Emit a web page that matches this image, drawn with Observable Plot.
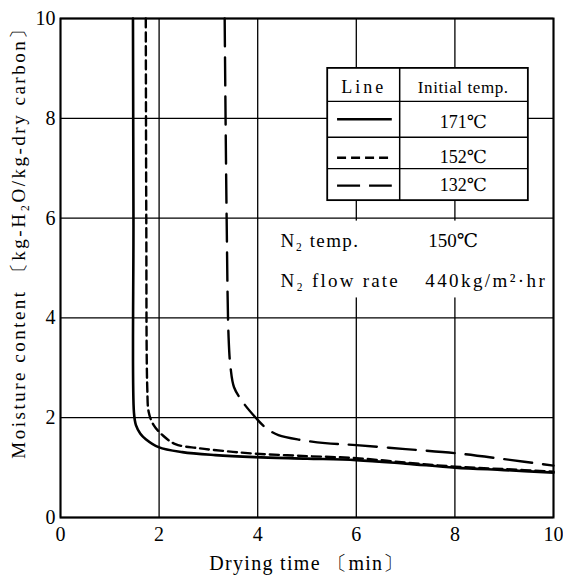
<!DOCTYPE html>
<html><head><meta charset="utf-8">
<script src="https://cdn.jsdelivr.net/npm/d3@7"></script>
<script src="https://cdn.jsdelivr.net/npm/@observablehq/plot@0.6"></script>
<style>
html,body{margin:0;padding:0;background:#fff;}
#chart{width:563px;height:580px;}
</style></head><body><div id="chart"></div>
<script>
// ---- data ----
const xTicks = [0, 2, 4, 6, 8, 10];
const yTicks = [0, 2, 4, 6, 8, 10];
const seriesNames = ["171℃", "152℃", "132℃"];

const time171  = [1.47, 1.48, 1.49, 1.53, 1.62, 1.73, 1.99, 2.47, 3.14, 3.94, 5, 6, 7, 8, 9, 10];
const moist171 = [10, 6, 2.1, 1.85, 1.68, 1.57, 1.41, 1.31, 1.25, 1.21, 1.18, 1.15, 1.08, 1.0, 0.95, 0.9];

const time152  = [1.73, 1.74, 1.76, 1.79, 1.89, 2.07, 2.33, 2.79, 3.34, 3.94, 5, 6, 7, 8, 9, 10];
const moist152 = [10, 6, 2.6, 2.11, 1.85, 1.65, 1.47, 1.39, 1.33, 1.28, 1.23, 1.19, 1.1, 1.02, 0.97, 0.92];

const time132  = [3.33, 3.37, 3.41, 3.45, 3.52, 3.7, 3.96, 4.16, 4.42, 4.9, 5.37, 6, 7, 8, 9, 10];
const moist132 = [10, 6, 3.6, 3.0, 2.61, 2.31, 2.0, 1.8, 1.65, 1.55, 1.49, 1.45, 1.37, 1.29, 1.17, 1.04];

const legendHeader = ["Line", "Initial temp."];
const noteLabels = ["N₂ temp.", "150℃", "N₂ flow rate", "440kg/m²·hr"];
const xLabel = "Drying time 〔min〕";
const yLabel = "Moisture content 〔kg-H₂O/kg-dry carbon〕";

// ---- build ----
const rows = (t, m, s) => t.map((x, i) => ({time: x, moisture: m[i], series: s}));
const d171 = rows(time171, moist171, seriesNames[0]);
const d152 = rows(time152, moist152, seriesNames[1]);
const d132 = rows(time132, moist132, seriesNames[2]);

const font = "'Liberation Serif', 'DejaVu Serif', serif";
const legendRowY = [7.92, 7.21, 6.65];

const chart = Plot.plot({
  width: 563,
  height: 580,
  marginLeft: 60,
  marginRight: 10,
  marginTop: 18,
  marginBottom: 63,
  style: {fontFamily: font, fontSize: "20px", background: "white", color: "black"},
  x: {domain: [0, 10]},
  y: {domain: [0, 10]},
  marks: [
    Plot.gridX(xTicks, {stroke: "black", strokeOpacity: 1, strokeWidth: 1.3}),
    Plot.gridY(yTicks, {stroke: "black", strokeOpacity: 1, strokeWidth: 1.3}),
    Plot.axisX(xTicks, {tickSize: 0, tickPadding: 9, fontSize: 20, label: null, tickFormat: d => String(d)}),
    Plot.axisY(yTicks, {tickSize: 0, tickPadding: 5, fontSize: 20, label: null, tickFormat: d => String(d)}),
    // curves
    Plot.line(d171, {x: "time", y: "moisture", curve: "catmull-rom", stroke: "black", strokeWidth: 2.6}),
    Plot.line(d152, {x: "time", y: "moisture", curve: "catmull-rom", stroke: "black", strokeWidth: 2.4, strokeDasharray: "9,5"}),
    Plot.line(d132, {x: "time", y: "moisture", curve: "catmull-rom", stroke: "black", strokeWidth: 2.4, strokeDasharray: "28,11"}),
    // annotation background
    Plot.rect([0], {x1: 4.3, x2: 9.9, y1: 4.4, y2: 5.94, fill: "white"}),
    Plot.text([noteLabels[0]], {x: 4.46, y: 5.55, textAnchor: "start", fontSize: 19}),
    Plot.text([noteLabels[1]], {x: 7.46, y: 5.55, textAnchor: "start", fontSize: 19}),
    Plot.text([noteLabels[2]], {x: 4.46, y: 4.75, textAnchor: "start", fontSize: 19}),
    Plot.text([noteLabels[3]], {x: 7.40, y: 4.75, textAnchor: "start", fontSize: 19}),
    // legend table
    Plot.rect([0], {x1: 5.42, x2: 9.49, y1: 6.35, y2: 9.0, fill: "white", stroke: "black", strokeWidth: 1.8}),
    Plot.ruleX([6.88], {y1: 6.35, y2: 9.0, stroke: "black", strokeWidth: 1.5}),
    Plot.ruleY([8.34, 7.62, 6.99], {x1: 5.42, x2: 9.49, stroke: "black", strokeWidth: 1.3}),
    Plot.text([legendHeader[0]], {x: 6.15, y: 8.62, fontSize: 18}),
    Plot.text([legendHeader[1]], {x: 8.17, y: 8.62, fontSize: 17}),
    Plot.text(seriesNames, {x: 8.17, y: (d, i) => legendRowY[i], fontSize: 18}),
    Plot.ruleY([legendRowY[0] + 0.06], {x1: 5.62, x2: 6.73, stroke: "black", strokeWidth: 2.4}),
    Plot.ruleY([legendRowY[1]], {x1: 5.62, x2: 6.73, stroke: "black", strokeWidth: 2.4, strokeDasharray: "9,5"}),
    Plot.ruleY([legendRowY[2]], {x1: 5.62, x2: 6.73, stroke: "black", strokeWidth: 2.4, strokeDasharray: "23,9"}),
    // axis titles
    Plot.text([xLabel], {frameAnchor: "bottom", dy: 52, dx: 0, fontSize: 20}),
    Plot.text([yLabel], {frameAnchor: "left", textAnchor: "middle", rotate: -90, dx: -42, dy: -30, fontSize: 19}),
    Plot.frame({stroke: "black", strokeWidth: 2})
  ]
});

// letter spacing (typesetting style of the original figure)
const spacing = new Map([
  [xLabel, "1.3px"], [yLabel, "2.5px"],
  [noteLabels[0], "1.4px"], [noteLabels[2], "2.2px"], [noteLabels[3], "2.4px"],
  [legendHeader[0], "3px"], [legendHeader[1], "0.6px"]
]);
d3.select(chart).selectAll("text").each(function () {
  const s = spacing.get(this.textContent);
  if (s) this.style.letterSpacing = s;
});
document.getElementById("chart").append(chart);
</script>
</body></html>
